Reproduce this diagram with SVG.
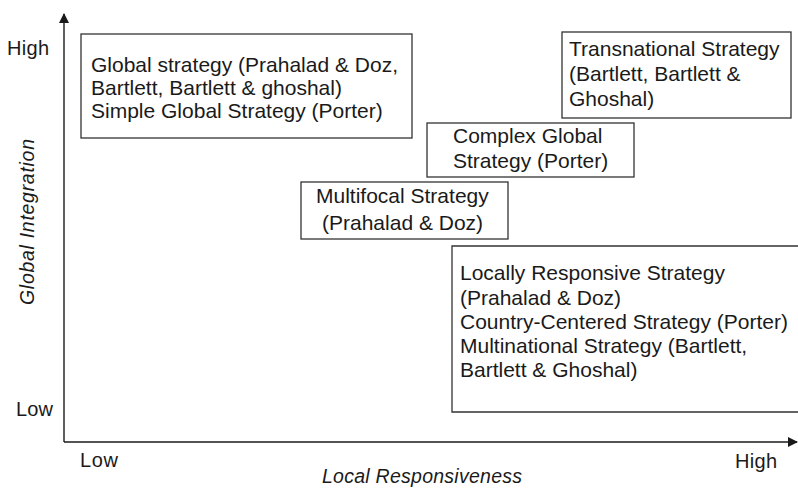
<svg xmlns="http://www.w3.org/2000/svg" width="798" height="488" viewBox="0 0 798 488">
<style>
text{font-family:"Liberation Sans",Arial,sans-serif;font-size:21px;fill:#1a1a1a}
.ax-t{font-size:20px}
.box{fill:#fff;stroke:#333;stroke-width:1.3}
.ax{stroke:#1a1a1a;stroke-width:1.4;fill:none}
.it{font-style:italic;font-size:19.5px}
</style>
<defs>
<marker id="arr" markerWidth="10" markerHeight="10" refX="9" refY="5" orient="auto" markerUnits="userSpaceOnUse">
<path d="M0,0 L10,5 L0,10 Z" fill="#1a1a1a"/>
</marker>
</defs>
<rect width="798" height="488" fill="#fff"/>
<g id="axes">
<path class="ax" d="M64,442 V14" marker-end="url(#arr)"/>
<path class="ax" d="M64,442 H797" marker-end="url(#arr)"/>
</g>
<g id="axis-labels">
<text class="ax-t" x="7" y="55" textLength="42">High</text>
<text class="ax-t" x="16" y="416" textLength="37">Low</text>
<text class="ax-t" x="80" y="467" textLength="38">Low</text>
<text class="ax-t" x="735" y="468" textLength="42">High</text>
<text class="it" x="322" y="483" textLength="200">Local Responsiveness</text>
<text class="it" transform="translate(34,305) rotate(-90)" textLength="166">Global Integration</text>
</g>
<g id="global">
<rect class="box" x="81" y="34" width="331" height="104"/>
<text x="91" y="72">Global strategy (Prahalad &amp; Doz,</text>
<text x="91" y="95">Bartlett, Bartlett &amp; ghoshal)</text>
<text x="91" y="118">Simple Global Strategy (Porter)</text>
</g>
<g id="transnational">
<rect class="box" x="562" y="32" width="229" height="86"/>
<text x="569" y="56">Transnational Strategy</text>
<text x="569" y="81">(Bartlett, Bartlett &amp;</text>
<text x="569" y="106">Ghoshal)</text>
</g>
<g id="complex">
<rect class="box" x="427" y="123" width="207" height="54"/>
<text x="453" y="143">Complex Global</text>
<text x="453" y="168">Strategy (Porter)</text>
</g>
<g id="multifocal">
<rect class="box" x="301" y="182" width="207" height="57"/>
<text x="316" y="203">Multifocal Strategy</text>
<text x="322" y="230">(Prahalad &amp; Doz)</text>
</g>
<g id="locally">
<path class="box" d="M798,246 H452 V412 H798"/>
<text x="460" y="280">Locally Responsive Strategy</text>
<text x="460" y="305">(Prahalad &amp; Doz)</text>
<text x="460" y="329">Country-Centered Strategy (Porter)</text>
<text x="460" y="353">Multinational Strategy (Bartlett,</text>
<text x="460" y="377">Bartlett &amp; Ghoshal)</text>
</g>
</svg>
